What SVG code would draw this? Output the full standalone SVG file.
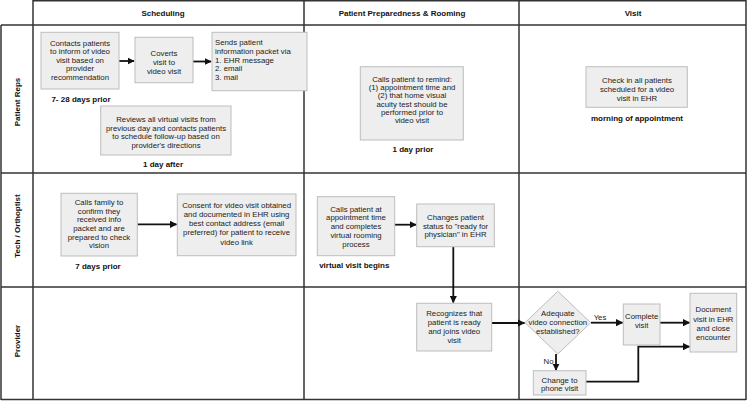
<svg xmlns="http://www.w3.org/2000/svg" width="747" height="401" viewBox="0 0 747 401">
<style>
.grid{stroke:#333;stroke-width:1.5;fill:none}
.box{fill:#eeeeee;stroke:#bdbdbd;stroke-width:1}
.t{font-family:"Liberation Sans",Arial,sans-serif;font-size:7.8px;fill:#222;text-anchor:middle}
.tl{font-family:"Liberation Sans",Arial,sans-serif;font-size:7.8px;fill:#222;text-anchor:start}
.b{font-family:"Liberation Sans",Arial,sans-serif;font-size:8px;font-weight:bold;fill:#111;text-anchor:middle}
.con{stroke:#111;stroke-width:1.8;fill:none}
</style>
<defs>
<marker id="ah" viewBox="0 0 10 10" refX="9" refY="5" markerWidth="4" markerHeight="4" orient="auto" markerUnits="strokeWidth">
<path d="M0,0 L10,5 L0,10 z" fill="#111"/>
</marker>
</defs>
<rect width="747" height="401" fill="#fff"/>
<g id="grid">
<line class="grid" x1="33" y1="0.75" x2="746" y2="0.75"/>
<line class="grid" x1="1" y1="25" x2="746" y2="25"/>
<line class="grid" x1="1" y1="173" x2="746" y2="173"/>
<line class="grid" x1="1" y1="287" x2="746" y2="287"/>
<line class="grid" x1="1" y1="399.5" x2="746" y2="399.5"/>
<line class="grid" x1="1" y1="25" x2="1" y2="400"/>
<line class="grid" x1="33" y1="0" x2="33" y2="400"/>
<line class="grid" x1="304" y1="0" x2="304" y2="400"/>
<line class="grid" x1="519" y1="0" x2="519" y2="400"/>
<line class="grid" x1="746" y1="0" x2="746" y2="400"/>
</g>
<g id="headers">
<text class="b" x="163" y="16">Scheduling</text>
<text class="b" x="402" y="16">Patient Preparedness &amp; Rooming</text>
<text class="b" x="633" y="16">Visit</text>
<text class="b" transform="translate(20,102) rotate(-90)">Patient Reps</text>
<text class="b" transform="translate(20,226) rotate(-90)">Tech / Orthoptist</text>
<text class="b" transform="translate(20,341) rotate(-90)">Provider</text>
</g>
<g id="connectors">
<line class="con" x1="119" y1="61" x2="134" y2="61" marker-end="url(#ah)"/>
<line class="con" x1="193" y1="61.5" x2="211" y2="61.5" marker-end="url(#ah)"/>
<line class="con" x1="137.5" y1="224.3" x2="176.5" y2="224.3" marker-end="url(#ah)"/>
<line class="con" x1="395" y1="224.7" x2="416" y2="224.7" marker-end="url(#ah)"/>
<line class="con" x1="453.3" y1="247" x2="453.3" y2="302.5" marker-end="url(#ah)"/>
<line class="con" x1="492" y1="323" x2="524.5" y2="323" marker-end="url(#ah)"/>
<line class="con" x1="591" y1="322.7" x2="622.5" y2="322.7" marker-end="url(#ah)"/>
<line class="con" x1="660" y1="322.7" x2="689.5" y2="322.7" marker-end="url(#ah)"/>
<line class="con" x1="556" y1="354" x2="556" y2="370" marker-end="url(#ah)"/>
<polyline class="con" points="586,381.7 638.3,381.7 638.3,346.7 689.5,346.7" marker-end="url(#ah)"/>
<text class="t" x="600" y="320">Yes</text>
<text class="t" x="548.5" y="363.5">No</text>
</g>
<g id="n-contacts">
<rect class="box" x="41" y="32.3" width="78" height="56.7"/>
<text class="t" x="80" y="45.5">Contacts patients</text>
<text class="t" x="80" y="54">to inform of video</text>
<text class="t" x="80" y="62.5">visit based on</text>
<text class="t" x="80" y="71">provider</text>
<text class="t" x="80" y="79.5">recommendation</text>
<text class="b" x="81" y="102">7- 28 days prior</text>
</g>
<g id="n-converts">
<rect class="box" x="135" y="37.3" width="58" height="45.4"/>
<text class="t" x="164" y="55.5">Coverts</text>
<text class="t" x="164" y="64.5">visit to</text>
<text class="t" x="164" y="73.5">video visit</text>
</g>
<g id="n-sends">
<rect class="box" x="212" y="32.3" width="95" height="58.4"/>
<text class="tl" x="215" y="44.5">Sends patient</text>
<text class="tl" x="215" y="53.5">information packet via</text>
<text class="tl" x="215" y="62.5">1. EHR message</text>
<text class="tl" x="215" y="71.3">2. email</text>
<text class="tl" x="215" y="80.2">3. mail</text>
</g>
<g id="n-reviews">
<rect class="box" x="100.7" y="106" width="130.3" height="49"/>
<text class="t" x="166" y="121.8">Reviews all virtual visits from</text>
<text class="t" x="166" y="130.5">previous day and contacts patients</text>
<text class="t" x="166" y="139.4">to schedule follow-up based on</text>
<text class="t" x="166" y="148.3">provider's directions</text>
<text class="b" x="163" y="167">1 day after</text>
</g>
<g id="n-remind">
<rect class="box" x="360.3" y="66.7" width="103" height="73.3"/>
<text class="t" x="412" y="82">Calls patient to remind:</text>
<text class="t" x="412" y="90.2">(1) appointment time and</text>
<text class="t" x="412" y="98.4">(2) that home visual</text>
<text class="t" x="412" y="106.6">acuity test should be</text>
<text class="t" x="412" y="114.8">performed prior to</text>
<text class="t" x="412" y="123.3">video visit</text>
<text class="b" x="413" y="152">1 day prior</text>
</g>
<g id="n-checkin">
<rect class="box" x="586" y="66.7" width="101.3" height="40.6"/>
<text class="t" x="637" y="83.4">Check in all patients</text>
<text class="t" x="637" y="92.4">scheduled for a video</text>
<text class="t" x="637" y="101.4">visit in EHR</text>
<text class="b" x="637" y="120.5">morning of appointment</text>
</g>
<g id="n-callsfamily">
<rect class="box" x="61" y="193.3" width="76.3" height="62.7"/>
<text class="t" x="99" y="205.4">Calls family to</text>
<text class="t" x="99" y="213.9">confirm they</text>
<text class="t" x="99" y="222.4">received info</text>
<text class="t" x="99" y="230.9">packet and are</text>
<text class="t" x="99" y="239.9">prepared to check</text>
<text class="t" x="99" y="248.4">vision</text>
<text class="b" x="98" y="268.5">7 days prior</text>
</g>
<g id="n-consent">
<rect class="box" x="177.3" y="194" width="118.7" height="61.7"/>
<text class="t" x="236.6" y="208">Consent for video visit obtained</text>
<text class="t" x="236.6" y="217">and documented in EHR using</text>
<text class="t" x="236.6" y="226">best contact address (email</text>
<text class="t" x="236.6" y="235.4">preferred) for patient to receive</text>
<text class="t" x="236.6" y="244.7">video link</text>
</g>
<g id="n-rooming">
<rect class="box" x="317.3" y="196.7" width="77.4" height="59"/>
<text class="t" x="356" y="212.4">Calls patient at</text>
<text class="t" x="356" y="220.4">appointment time</text>
<text class="t" x="356" y="229.4">and completes</text>
<text class="t" x="356" y="238">virtual rooming</text>
<text class="t" x="356" y="247">process</text>
<text class="b" x="354.3" y="268">virtual visit begins</text>
</g>
<g id="n-status">
<rect class="box" x="416.7" y="204" width="77.6" height="42.7"/>
<text class="t" x="455.5" y="219.7">Changes patient</text>
<text class="t" x="455.5" y="228.7">status to "ready for</text>
<text class="t" x="455.5" y="237.4">physician" in EHR</text>
</g>
<g id="n-recognizes">
<rect class="box" x="416.7" y="303.3" width="75" height="47.7"/>
<text class="t" x="454.2" y="316.4">Recognizes that</text>
<text class="t" x="454.2" y="325.4">patient is ready</text>
<text class="t" x="454.2" y="334.4">and joins video</text>
<text class="t" x="454.2" y="342.7">visit</text>
</g>
<g id="n-decision">
<polygon class="box" points="557.8,291.3 590.7,322.7 557.8,354 525,322.7"/>
<text class="t" x="557.8" y="316.4">Adequate</text>
<text class="t" x="557.8" y="325.4">video connection</text>
<text class="t" x="557.8" y="334.4">established?</text>
</g>
<g id="n-complete">
<rect class="box" x="623.3" y="304" width="36.7" height="41"/>
<text class="t" x="641.7" y="319.4">Complete</text>
<text class="t" x="641.7" y="328">visit</text>
</g>
<g id="n-document">
<rect class="box" x="690" y="293.3" width="46.7" height="58.7"/>
<text class="t" x="713.3" y="312">Document</text>
<text class="t" x="713.3" y="321.7">visit in EHR</text>
<text class="t" x="713.3" y="331">and close</text>
<text class="t" x="713.3" y="340">encounter</text>
</g>
<g id="n-phone">
<rect class="box" x="533.3" y="370.7" width="52.7" height="24.3"/>
<text class="t" x="559.6" y="382.7">Change to</text>
<text class="t" x="559.6" y="391.4">phone visit</text>
</g>
</svg>
